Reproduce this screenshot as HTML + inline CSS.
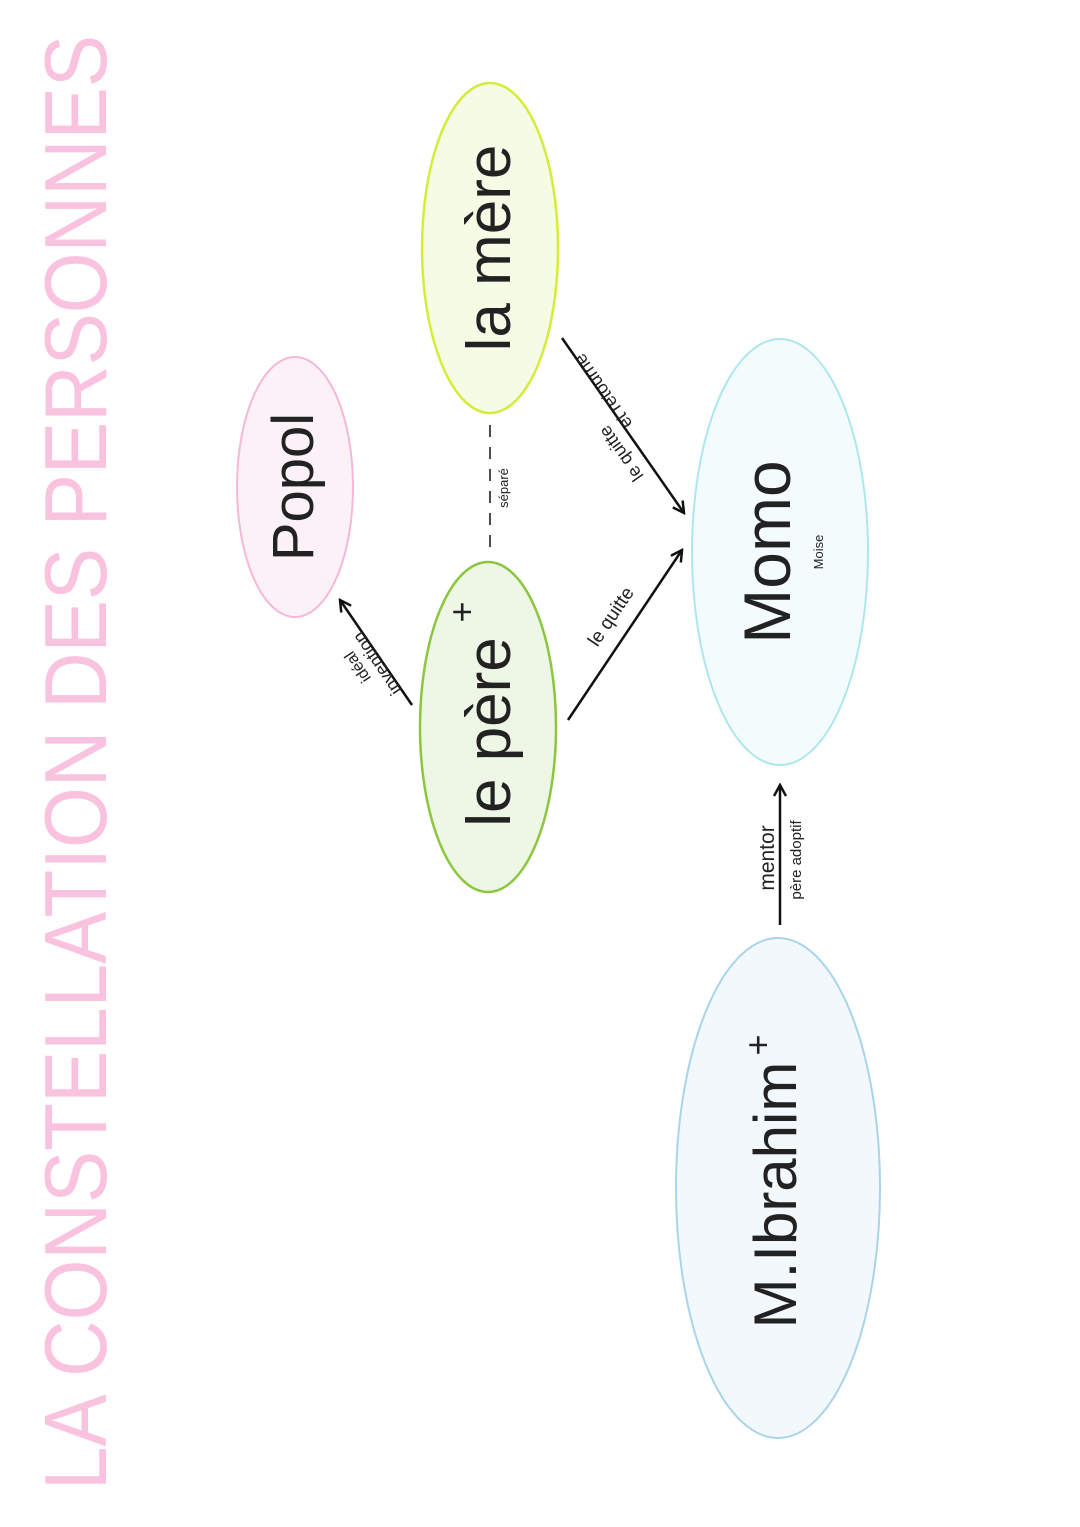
<!DOCTYPE html>
<html><head><meta charset="utf-8"><style>
html,body{margin:0;padding:0;background:#fff;}
svg{display:block;}
text{font-family:"Liberation Sans","DejaVu Sans",sans-serif;}
</style></head><body>
<svg width="1080" height="1527" viewBox="0 0 1080 1527" xmlns="http://www.w3.org/2000/svg">
<defs>
<marker id="ah" markerWidth="14" markerHeight="14" refX="12" refY="7" orient="auto" markerUnits="userSpaceOnUse">
<path d="M1,1 L12,7 L1,13" fill="none" stroke="#111" stroke-width="2.5"/>
</marker>
</defs>
<text transform="translate(106,1490) rotate(-90)" font-size="88" fill="#f9c3df" textLength="1455" lengthAdjust="spacingAndGlyphs">LA CONSTELLATION DES PERSONNES</text>

<ellipse cx="295" cy="487" rx="58" ry="130" fill="#fdf1f8" stroke="#f5b8d8" stroke-width="2"/>
<ellipse cx="490" cy="248" rx="68" ry="165" fill="#f6fbe6" stroke="#d6ec3a" stroke-width="2.5"/>
<ellipse cx="488" cy="727" rx="68" ry="165" fill="#eef6e6" stroke="#8cc63f" stroke-width="2.5"/>
<ellipse cx="780" cy="552" rx="88" ry="213" fill="#f3fbfd" stroke="#aee6f0" stroke-width="2"/>
<ellipse cx="778" cy="1188" rx="102" ry="250" fill="#f3f8fd" stroke="#a8d4ec" stroke-width="2"/>

<g fill="#222">
<text transform="translate(313,487) rotate(-90)" font-size="58" text-anchor="middle">Popol</text>
<text transform="translate(510,248) rotate(-90)" font-size="62" text-anchor="middle">la mère</text>
<text transform="translate(510,732) rotate(-90)" font-size="62" text-anchor="middle">le père</text>
<text transform="translate(474,612) rotate(-90)" font-size="36" text-anchor="middle">+</text>
<text transform="translate(790,552) rotate(-90)" font-size="66" text-anchor="middle">Momo</text>
<text transform="translate(823,552) rotate(-90)" font-size="13" text-anchor="middle">Moise</text>
<text transform="translate(796,1195) rotate(-90)" font-size="60" text-anchor="middle">M.Ibrahim</text>
<text transform="translate(770,1045) rotate(-90)" font-size="36" text-anchor="middle">+</text>
</g>

<line x1="412" y1="705" x2="340" y2="600" stroke="#111" stroke-width="2.5" marker-end="url(#ah)"/>
<text transform="translate(382,660) rotate(-124)" font-size="18" text-anchor="middle" fill="#222">invention</text>
<text transform="translate(362,664) rotate(-124)" font-size="16" text-anchor="middle" fill="#222">idéal</text>

<line x1="568" y1="720" x2="682" y2="550" stroke="#111" stroke-width="2.5" marker-end="url(#ah)"/>
<text transform="translate(616,620) rotate(-56)" font-size="19" text-anchor="middle" fill="#222">le quitte</text>

<line x1="562" y1="338" x2="684" y2="513" stroke="#111" stroke-width="2.5" marker-end="url(#ah)"/>
<text transform="translate(626,450) rotate(-125)" font-size="18" text-anchor="middle" fill="#222">le quitte</text>
<text transform="translate(608,388) rotate(-125)" font-size="18" text-anchor="middle" fill="#222">et retourne</text>

<line x1="490" y1="425" x2="490" y2="550" stroke="#111" stroke-width="1.5" stroke-dasharray="12,10"/>
<text transform="translate(508,488) rotate(-90)" font-size="13" text-anchor="middle" fill="#222">séparé</text>

<line x1="780" y1="925" x2="780" y2="785" stroke="#111" stroke-width="2.5" marker-end="url(#ah)"/>
<text transform="translate(774,858) rotate(-90)" font-size="21" text-anchor="middle" fill="#222">mentor</text>
<text transform="translate(801,860) rotate(-90)" font-size="15" text-anchor="middle" fill="#222">père adoptif</text>
</svg>
</body></html>
